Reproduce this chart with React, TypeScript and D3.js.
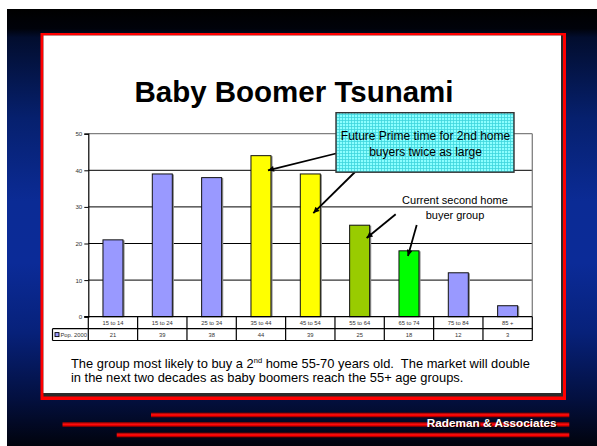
import * as d3 from "d3";
import React from "react";

// chart values
const categories = ["15 to 14", "15 to 24", "25 to 34", "35 to 44", "45 to 54", "55 to 64", "65 to 74", "75 to 84", "85 +"];
const pop2000 = [21, 39, 38, 44, 39, 25, 18, 12, 3];
const yTicks = [0, 10, 20, 30, 40, 50];
const seriesName = "Pop. 2000";

const titleText = "Baby Boomer Tsunami";
const calloutLines = ["Future Prime time for 2nd home", "buyers twice as large"];
const currentLines = ["Current second home", "buyer group"];
const footerText = "Rademan & Associates";

// bar colours by category
const barFills = ["#9999ff", "#9999ff", "#9999ff", "#ffff00", "#ffff00", "#99cc00", "#00ff00", "#9999ff", "#9999ff"];

const W = 597,
  H = 446;

const App = () => {
  const ref = React.useRef<SVGSVGElement>(null);

  React.useEffect(() => {
    const svg = d3.select(ref.current);
    svg.selectAll("*").remove();
    svg.attr("width", W).attr("height", H);

    const defs = svg.append("defs");

    // slide background
    const bg = defs
      .append("linearGradient")
      .attr("id", "slideBg")
      .attr("gradientUnits", "userSpaceOnUse")
      .attr("x1", 0)
      .attr("y1", 9)
      .attr("x2", 0)
      .attr("y2", H);
    [
      [0, "#000000"],
      [0.045, "#00020a"],
      [0.065, "#020d2e"],
      [0.25, "#06206e"],
      [0.44, "#0b2b95"],
      [0.58, "#0b2b98"],
      [0.74, "#07217a"],
      [0.89, "#031040"],
      [1, "#01030d"],
    ].forEach(([o, c]) => bg.append("stop").attr("offset", o).attr("stop-color", c));

    const redBar = defs
      .append("linearGradient")
      .attr("id", "redBar")
      .attr("x1", 0)
      .attr("y1", 0)
      .attr("x2", 0)
      .attr("y2", 1);
    [
      [0, "#7a0000"],
      [0.45, "#ff1010"],
      [0.6, "#ff0000"],
      [1, "#6a0000"],
    ].forEach(([o, c]) => redBar.append("stop").attr("offset", o).attr("stop-color", c));

    // hatched cyan fill of the callout
    const pat = defs
      .append("pattern")
      .attr("id", "hatch")
      .attr("patternUnits", "userSpaceOnUse")
      .attr("width", 3)
      .attr("height", 3);
    pat.append("rect").attr("width", 3).attr("height", 3).attr("fill", "#8cffff");
    pat
      .append("path")
      .attr("d", "M0,0.5H3M0.5,0V3")
      .attr("stroke", "#3fd6dd")
      .attr("stroke-width", 0.8);

    defs
      .append("marker")
      .attr("id", "arrow")
      .attr("viewBox", "0 0 10 10")
      .attr("refX", 10)
      .attr("refY", 5)
      .attr("markerWidth", 8)
      .attr("markerHeight", 6)
      .attr("markerUnits", "userSpaceOnUse")
      .attr("orient", "auto")
      .append("path")
      .attr("d", "M0,0L10,5L0,10z")
      .attr("fill", "#000");

    svg.append("rect").attr("width", W).attr("height", H).attr("fill", "#fff");
    svg.append("rect").attr("x", 7).attr("y", 9).attr("width", W - 7).attr("height", H - 9).attr("fill", "url(#slideBg)");

    // white panel with red frame
    svg.append("rect").attr("x", 40.5).attr("y", 33).attr("width", 525.5).attr("height", 367).attr("fill", "#ff0000");
    svg.append("rect").attr("x", 43.5).attr("y", 35.5).attr("width", 519.5).attr("height", 361).attr("fill", "#2a2a2a");
    svg.append("rect").attr("x", 43.5).attr("y", 35.5).attr("width", 517.5).attr("height", 357.5).attr("fill", "#fff");

    svg
      .append("text")
      .attr("x", 294)
      .attr("y", 102)
      .attr("text-anchor", "middle")
      .attr("font-family", "Arial, 'Liberation Sans', sans-serif")
      .attr("font-weight", "bold")
      .attr("font-size", 29.5)
      .attr("fill", "#000")
      .text(titleText);

    // chart
    const left = 88.3,
      right = 532.3,
      top = 133.7,
      bottom = 316.7;

    const x = d3.scaleBand().domain(categories).range([left, right]).padding(0);
    const y = d3.scaleLinear().domain([0, 50]).range([bottom, top]);
    const barW = 20;
    const barX = (i: number) => (x(categories[i]) as number) + x.bandwidth() / 2 - barW / 2;

    const graph = svg.append("g").attr("font-family", "Arial, 'Liberation Sans', sans-serif");

    graph
      .selectAll(".grid")
      .data(yTicks.filter((t) => t > 0))
      .enter()
      .append("line")
      .attr("x1", left)
      .attr("x2", right)
      .attr("y1", (d) => y(d))
      .attr("y2", (d) => y(d))
      .attr("stroke", (d) => (d === 50 ? "#808080" : "#000"))
      .attr("stroke-width", (d) => (d === 50 ? 1.3 : 1));

    graph.append("line").attr("x1", right).attr("x2", right).attr("y1", top).attr("y2", bottom).attr("stroke", "#808080").attr("stroke-width", 1.3);

    const yAxis = d3.axisLeft(y).tickValues(yTicks).tickSize(4).tickPadding(2);
    const yAxisGroup = graph.append("g").attr("transform", `translate(${left},0)`).call(yAxis);
    yAxisGroup.select(".domain").attr("stroke", "#000").attr("stroke-width", 1.2);
    yAxisGroup.selectAll(".tick line").attr("stroke", "#000");
    yAxisGroup
      .selectAll(".tick text")
      .attr("font-size", 6.2)
      .attr("font-family", "Arial, 'Liberation Sans', sans-serif")
      .attr("fill", "#333");

    // bars with a grey shadow on the right
    graph
      .selectAll(".shadow")
      .data(pop2000)
      .enter()
      .append("rect")
      .attr("x", (_, i) => barX(i) + 1.6)
      .attr("y", (d) => y(d) + 0.5)
      .attr("width", barW)
      .attr("height", (d) => bottom - y(d) - 0.5)
      .attr("fill", "#8c8c8c");

    graph
      .selectAll(".bar")
      .data(pop2000)
      .enter()
      .append("rect")
      .attr("x", (_, i) => barX(i))
      .attr("y", (d) => y(d))
      .attr("width", barW)
      .attr("height", (d) => bottom - y(d))
      .attr("fill", (_, i) => barFills[i])
      .attr("stroke", "#111")
      .attr("stroke-width", 1);

    // data table
    const row1 = bottom,
      row2 = 328.7,
      row3 = 340.5,
      legendLeft = 52.5;
    const tbl = graph.append("g").attr("stroke", "#000").attr("stroke-width", 1.2);
    tbl.append("line").attr("x1", left - 4).attr("x2", right).attr("y1", row1).attr("y2", row1);
    tbl.append("line").attr("x1", legendLeft).attr("x2", right).attr("y1", row2).attr("y2", row2);
    tbl.append("line").attr("x1", legendLeft).attr("x2", right).attr("y1", row3).attr("y2", row3);
    tbl.append("line").attr("x1", legendLeft).attr("x2", legendLeft).attr("y1", row2).attr("y2", row3);
    tbl
      .selectAll(".vline")
      .data([...categories, "end"])
      .enter()
      .append("line")
      .attr("x1", (_, i) => left + i * x.bandwidth())
      .attr("x2", (_, i) => left + i * x.bandwidth())
      .attr("y1", row1)
      .attr("y2", row3);

    graph
      .selectAll(".catLabel")
      .data(categories)
      .enter()
      .append("text")
      .attr("x", (d) => (x(d) as number) + x.bandwidth() / 2)
      .attr("y", (row1 + row2) / 2)
      .attr("dy", "0.35em")
      .attr("text-anchor", "middle")
      .attr("font-size", 5.8)
      .attr("fill", "#333")
      .text((d) => d);

    graph
      .selectAll(".valLabel")
      .data(pop2000)
      .enter()
      .append("text")
      .attr("x", (_, i) => (x(categories[i]) as number) + x.bandwidth() / 2)
      .attr("y", (row2 + row3) / 2)
      .attr("dy", "0.35em")
      .attr("text-anchor", "middle")
      .attr("font-size", 5.8)
      .attr("fill", "#333")
      .text((d) => d);

    graph
      .append("rect")
      .attr("x", legendLeft + 2.5)
      .attr("y", (row2 + row3) / 2 - 2)
      .attr("width", 4)
      .attr("height", 4)
      .attr("fill", barFills[0])
      .attr("stroke", "#000")
      .attr("stroke-width", 0.9);
    graph
      .append("text")
      .attr("x", legendLeft + 8)
      .attr("y", (row2 + row3) / 2)
      .attr("dy", "0.35em")
      .attr("font-size", 5.8)
      .attr("fill", "#333")
      .text(seriesName);

    // annotations
    const ann = svg.append("g").attr("font-family", "Arial, 'Liberation Sans', sans-serif");
    const arrows = [
      { from: [336, 153.5], to: [barX(3) + 17, y(40)] },
      { from: [355, 172], to: [barX(4) + 13, y(28.3)] },
      { from: [395.7, 214.3], to: [barX(5) + 17, y(21.5)] },
      { from: [416.7, 225], to: [barX(6) + 9, y(16.6)] },
    ];
    ann
      .selectAll(".arrow")
      .data(arrows)
      .enter()
      .append("line")
      .attr("x1", (d) => d.from[0])
      .attr("y1", (d) => d.from[1])
      .attr("x2", (d) => d.to[0])
      .attr("y2", (d) => d.to[1])
      .attr("stroke", "#000")
      .attr("stroke-width", 1.8)
      .attr("marker-end", "url(#arrow)");

    ann
      .append("rect")
      .attr("x", 336)
      .attr("y", 112.7)
      .attr("width", 178)
      .attr("height", 59.5)
      .attr("fill", "url(#hatch)")
      .attr("stroke", "#333")
      .attr("stroke-width", 1.4);

    ann
      .selectAll(".callout")
      .data(calloutLines)
      .enter()
      .append("text")
      .attr("x", 425.5)
      .attr("y", (_, i) => 140 + i * 15.5)
      .attr("text-anchor", "middle")
      .attr("font-size", 12)
      .attr("fill", "#000")
      .text((d) => d);

    ann
      .selectAll(".current")
      .data(currentLines)
      .enter()
      .append("text")
      .attr("x", 455)
      .attr("y", (_, i) => 203.5 + i * 15.5)
      .attr("text-anchor", "middle")
      .attr("font-size", 11)
      .attr("fill", "#000")
      .text((d) => d);

    // caption
    const cap = svg
      .append("g")
      .attr("font-family", "Arial, 'Liberation Sans', sans-serif")
      .attr("font-size", 12.9)
      .attr("fill", "#000");
    const l1 = cap.append("text").attr("x", 71).attr("y", 367.5);
    l1.append("tspan").text("The group most likely to buy a 2");
    l1.append("tspan").attr("font-size", 7.5).attr("dy", -4.5).text("nd");
    l1.append("tspan").attr("dy", 4.5).attr("xml:space", "preserve").text(" home 55-70 years old.\u00a0 The market will double");
    cap.append("text").attr("x", 71).attr("y", 382).text("in the next two decades as baby boomers reach the 55+ age groups.");

    // footer stripes
    const stripes = [
      { x: 151, y: 415 },
      { x: 62.5, y: 424.5 },
      { x: 116.7, y: 435 },
    ];
    svg
      .selectAll(".stripe")
      .data(stripes)
      .enter()
      .append("rect")
      .attr("x", (d) => d.x)
      .attr("y", (d) => d.y - 2.4)
      .attr("width", (d) => 569.3 - d.x)
      .attr("height", 4.8)
      .attr("fill", "url(#redBar)");

    const foot = svg
      .append("g")
      .attr("font-family", "Arial, 'Liberation Sans', sans-serif")
      .attr("font-weight", "bold")
      .attr("font-size", 11.8)
      .attr("text-anchor", "end");
    foot.append("text").attr("x", 557.7).attr("y", 428.3).attr("fill", "#000").text(footerText);
    foot.append("text").attr("x", 556.7).attr("y", 427.3).attr("fill", "#fff").text(footerText);
  }, []);

  return <svg ref={ref} style={{ position: "absolute", left: 0, top: 0, display: "block" }} />;
};

export default App;
